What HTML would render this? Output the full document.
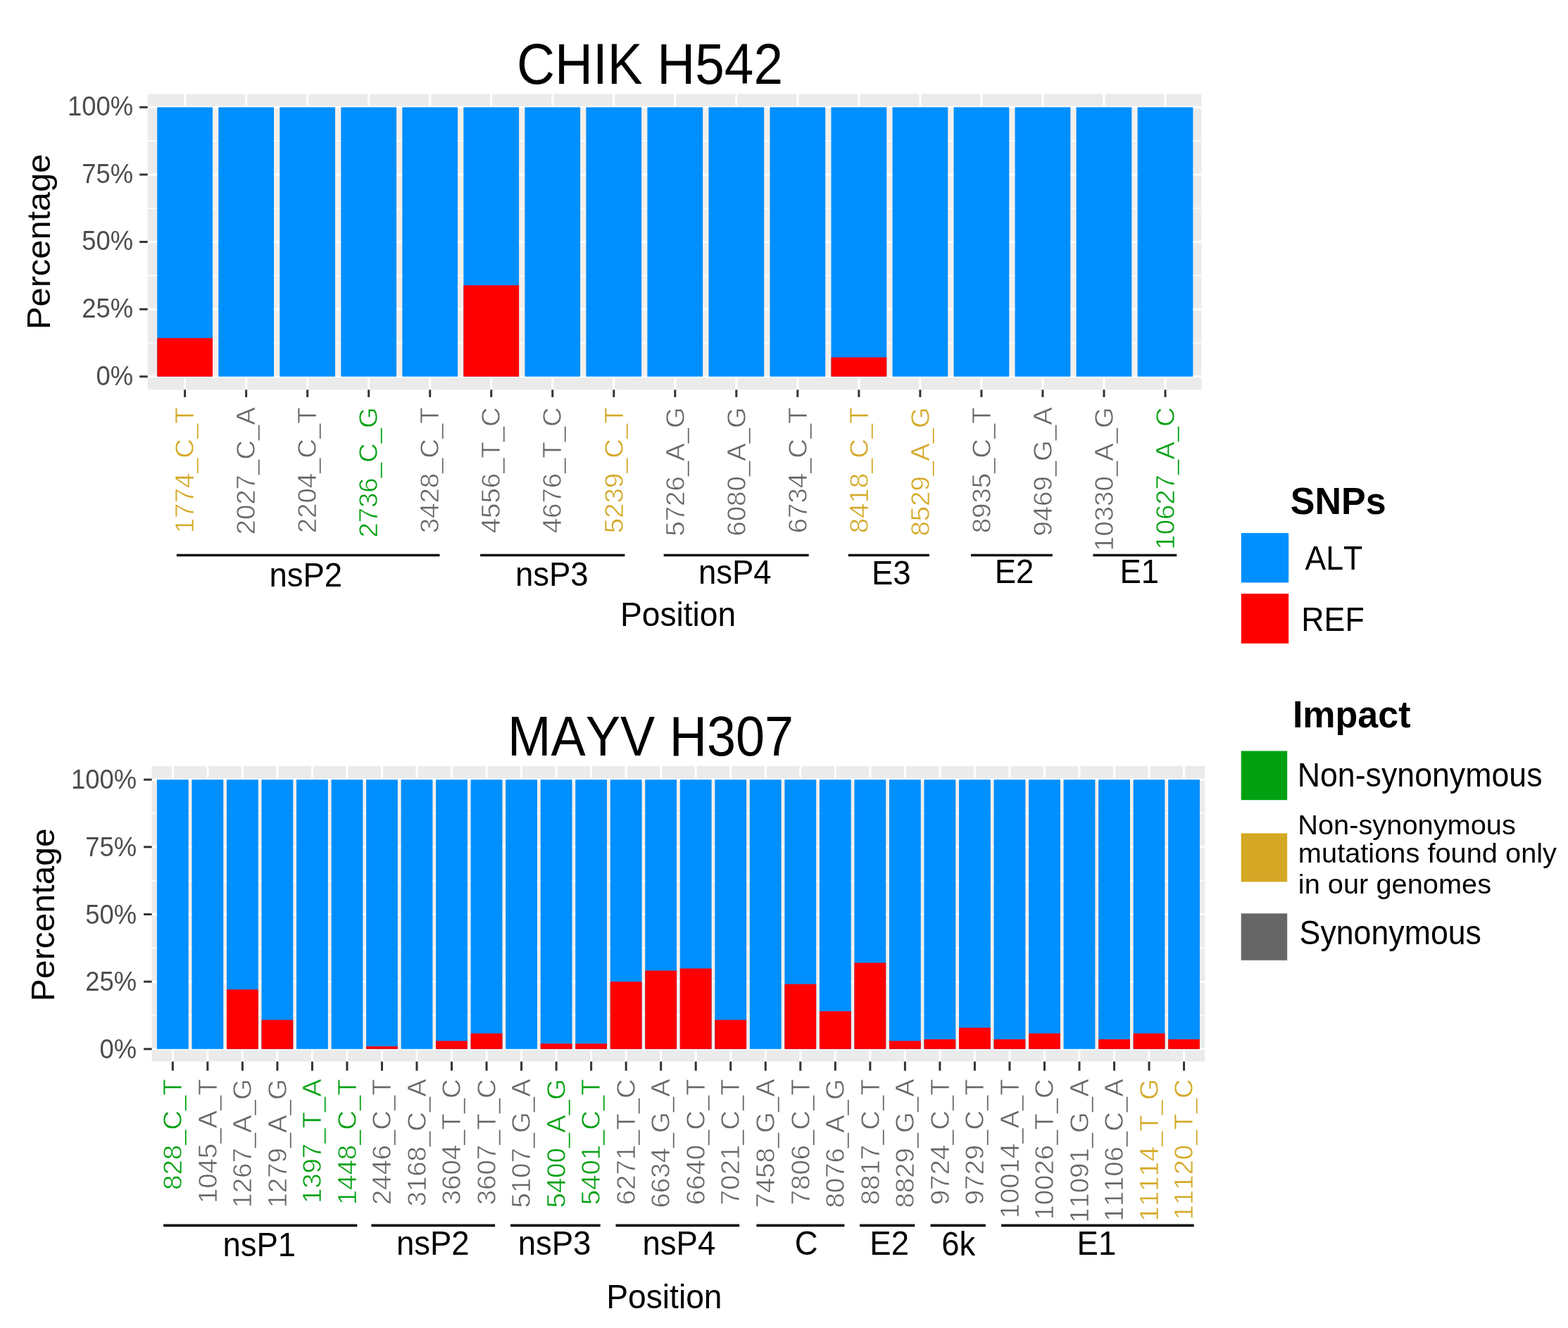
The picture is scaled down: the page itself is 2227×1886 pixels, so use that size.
<!DOCTYPE html>
<html><head><meta charset="utf-8"><title>SNPs</title><style>html,body{margin:0;padding:0;background:#fff;}svg{display:block;}</style></head><body>
<svg width="2227" height="1886" viewBox="0 0 2227 1886" font-family="'Liberation Sans', Arial, Helvetica, sans-serif" style="font-kerning:none;font-variant-ligatures:none">
<rect width="2227" height="1886" fill="#fff"/>
<rect x="209.7" y="133.5" width="1496.60" height="420.00" fill="#EBEBEB"/>
<rect x="223.24" y="152.30" width="1471.13" height="382.50" fill="#F4EFEA"/>
<line x1="209.7" x2="1706.3" y1="486.99" y2="486.99" stroke="#fff" stroke-width="1.6"/>
<line x1="209.7" x2="1706.3" y1="391.36" y2="391.36" stroke="#fff" stroke-width="1.6"/>
<line x1="209.7" x2="1706.3" y1="295.74" y2="295.74" stroke="#fff" stroke-width="1.6"/>
<line x1="209.7" x2="1706.3" y1="200.11" y2="200.11" stroke="#fff" stroke-width="1.6"/>
<line x1="209.7" x2="1706.3" y1="534.80" y2="534.80" stroke="#fff" stroke-width="3"/>
<line x1="209.7" x2="1706.3" y1="439.17" y2="439.17" stroke="#fff" stroke-width="3"/>
<line x1="209.7" x2="1706.3" y1="343.55" y2="343.55" stroke="#fff" stroke-width="3"/>
<line x1="209.7" x2="1706.3" y1="247.93" y2="247.93" stroke="#fff" stroke-width="3"/>
<line x1="209.7" x2="1706.3" y1="152.30" y2="152.30" stroke="#fff" stroke-width="3"/>
<line x1="262.61" x2="262.61" y1="133.5" y2="553.5" stroke="#fff" stroke-width="3"/>
<line x1="349.64" x2="349.64" y1="133.5" y2="553.5" stroke="#fff" stroke-width="3"/>
<line x1="436.66" x2="436.66" y1="133.5" y2="553.5" stroke="#fff" stroke-width="3"/>
<line x1="523.68" x2="523.68" y1="133.5" y2="553.5" stroke="#fff" stroke-width="3"/>
<line x1="610.71" x2="610.71" y1="133.5" y2="553.5" stroke="#fff" stroke-width="3"/>
<line x1="697.73" x2="697.73" y1="133.5" y2="553.5" stroke="#fff" stroke-width="3"/>
<line x1="784.75" x2="784.75" y1="133.5" y2="553.5" stroke="#fff" stroke-width="3"/>
<line x1="871.78" x2="871.78" y1="133.5" y2="553.5" stroke="#fff" stroke-width="3"/>
<line x1="958.80" x2="958.80" y1="133.5" y2="553.5" stroke="#fff" stroke-width="3"/>
<line x1="1045.82" x2="1045.82" y1="133.5" y2="553.5" stroke="#fff" stroke-width="3"/>
<line x1="1132.85" x2="1132.85" y1="133.5" y2="553.5" stroke="#fff" stroke-width="3"/>
<line x1="1219.87" x2="1219.87" y1="133.5" y2="553.5" stroke="#fff" stroke-width="3"/>
<line x1="1306.89" x2="1306.89" y1="133.5" y2="553.5" stroke="#fff" stroke-width="3"/>
<line x1="1393.92" x2="1393.92" y1="133.5" y2="553.5" stroke="#fff" stroke-width="3"/>
<line x1="1480.94" x2="1480.94" y1="133.5" y2="553.5" stroke="#fff" stroke-width="3"/>
<line x1="1567.96" x2="1567.96" y1="133.5" y2="553.5" stroke="#fff" stroke-width="3"/>
<line x1="1654.99" x2="1654.99" y1="133.5" y2="553.5" stroke="#fff" stroke-width="3"/>
<rect x="223.24" y="152.30" width="78.76" height="382.50" fill="#008FFF"/>
<rect x="223.24" y="480.16" width="78.76" height="54.64" fill="#FF0000"/>
<rect x="310.26" y="152.30" width="78.76" height="382.50" fill="#008FFF"/>
<rect x="397.28" y="152.30" width="78.76" height="382.50" fill="#008FFF"/>
<rect x="484.31" y="152.30" width="78.76" height="382.50" fill="#008FFF"/>
<rect x="571.33" y="152.30" width="78.76" height="382.50" fill="#008FFF"/>
<rect x="658.35" y="152.30" width="78.76" height="382.50" fill="#008FFF"/>
<rect x="658.35" y="405.13" width="78.76" height="129.67" fill="#FF0000"/>
<rect x="745.38" y="152.30" width="78.76" height="382.50" fill="#008FFF"/>
<rect x="832.40" y="152.30" width="78.76" height="382.50" fill="#008FFF"/>
<rect x="919.42" y="152.30" width="78.76" height="382.50" fill="#008FFF"/>
<rect x="1006.45" y="152.30" width="78.76" height="382.50" fill="#008FFF"/>
<rect x="1093.47" y="152.30" width="78.76" height="382.50" fill="#008FFF"/>
<rect x="1180.49" y="152.30" width="78.76" height="382.50" fill="#008FFF"/>
<rect x="1180.49" y="507.48" width="78.76" height="27.32" fill="#FF0000"/>
<rect x="1267.51" y="152.30" width="78.76" height="382.50" fill="#008FFF"/>
<rect x="1354.54" y="152.30" width="78.76" height="382.50" fill="#008FFF"/>
<rect x="1441.56" y="152.30" width="78.76" height="382.50" fill="#008FFF"/>
<rect x="1528.58" y="152.30" width="78.76" height="382.50" fill="#008FFF"/>
<rect x="1615.61" y="152.30" width="78.76" height="382.50" fill="#008FFF"/>
<line x1="198.2" x2="209.7" y1="534.80" y2="534.80" stroke="#333333" stroke-width="3"/>
<text transform="translate(189.00,546.50) scale(1,1.0860)" font-size="36.4" fill="#4D4D4D" text-anchor="end">0%</text>
<line x1="198.2" x2="209.7" y1="439.17" y2="439.17" stroke="#333333" stroke-width="3"/>
<text transform="translate(189.00,450.87) scale(1,1.0860)" font-size="36.4" fill="#4D4D4D" text-anchor="end">25%</text>
<line x1="198.2" x2="209.7" y1="343.55" y2="343.55" stroke="#333333" stroke-width="3"/>
<text transform="translate(189.00,355.25) scale(1,1.0860)" font-size="36.4" fill="#4D4D4D" text-anchor="end">50%</text>
<line x1="198.2" x2="209.7" y1="247.93" y2="247.93" stroke="#333333" stroke-width="3"/>
<text transform="translate(189.00,259.62) scale(1,1.0860)" font-size="36.4" fill="#4D4D4D" text-anchor="end">75%</text>
<line x1="198.2" x2="209.7" y1="152.30" y2="152.30" stroke="#333333" stroke-width="3"/>
<text transform="translate(189.00,164.00) scale(1,1.0860)" font-size="36.4" fill="#4D4D4D" text-anchor="end">100%</text>
<line x1="262.61" x2="262.61" y1="553.5" y2="564.0" stroke="#333333" stroke-width="3"/>
<text transform="translate(275.34,578.30) scale(1,1.0530) rotate(-90)" font-size="36.4" fill="#D4A824" text-anchor="end" stroke="#fff" stroke-width="0.6">1774_C_T</text>
<line x1="349.64" x2="349.64" y1="553.5" y2="564.0" stroke="#333333" stroke-width="3"/>
<text transform="translate(362.36,578.30) scale(1,1.0530) rotate(-90)" font-size="36.4" fill="#666666" text-anchor="end" stroke="#fff" stroke-width="0.6">2027_C_A</text>
<line x1="436.66" x2="436.66" y1="553.5" y2="564.0" stroke="#333333" stroke-width="3"/>
<text transform="translate(449.38,578.30) scale(1,1.0530) rotate(-90)" font-size="36.4" fill="#666666" text-anchor="end" stroke="#fff" stroke-width="0.6">2204_C_T</text>
<line x1="523.68" x2="523.68" y1="553.5" y2="564.0" stroke="#333333" stroke-width="3"/>
<text transform="translate(536.41,578.30) scale(1,1.0530) rotate(-90)" font-size="36.4" fill="#00A010" text-anchor="end" stroke="#fff" stroke-width="0.6">2736_C_G</text>
<line x1="610.71" x2="610.71" y1="553.5" y2="564.0" stroke="#333333" stroke-width="3"/>
<text transform="translate(623.43,578.30) scale(1,1.0530) rotate(-90)" font-size="36.4" fill="#666666" text-anchor="end" stroke="#fff" stroke-width="0.6">3428_C_T</text>
<line x1="697.73" x2="697.73" y1="553.5" y2="564.0" stroke="#333333" stroke-width="3"/>
<text transform="translate(710.45,578.30) scale(1,1.0530) rotate(-90)" font-size="36.4" fill="#666666" text-anchor="end" stroke="#fff" stroke-width="0.6">4556_T_C</text>
<line x1="784.75" x2="784.75" y1="553.5" y2="564.0" stroke="#333333" stroke-width="3"/>
<text transform="translate(797.48,578.30) scale(1,1.0530) rotate(-90)" font-size="36.4" fill="#666666" text-anchor="end" stroke="#fff" stroke-width="0.6">4676_T_C</text>
<line x1="871.78" x2="871.78" y1="553.5" y2="564.0" stroke="#333333" stroke-width="3"/>
<text transform="translate(884.50,578.30) scale(1,1.0530) rotate(-90)" font-size="36.4" fill="#D4A824" text-anchor="end" stroke="#fff" stroke-width="0.6">5239_C_T</text>
<line x1="958.80" x2="958.80" y1="553.5" y2="564.0" stroke="#333333" stroke-width="3"/>
<text transform="translate(971.52,578.30) scale(1,1.0530) rotate(-90)" font-size="36.4" fill="#666666" text-anchor="end" stroke="#fff" stroke-width="0.6">5726_A_G</text>
<line x1="1045.82" x2="1045.82" y1="553.5" y2="564.0" stroke="#333333" stroke-width="3"/>
<text transform="translate(1058.54,578.30) scale(1,1.0530) rotate(-90)" font-size="36.4" fill="#666666" text-anchor="end" stroke="#fff" stroke-width="0.6">6080_A_G</text>
<line x1="1132.85" x2="1132.85" y1="553.5" y2="564.0" stroke="#333333" stroke-width="3"/>
<text transform="translate(1145.57,578.30) scale(1,1.0530) rotate(-90)" font-size="36.4" fill="#666666" text-anchor="end" stroke="#fff" stroke-width="0.6">6734_C_T</text>
<line x1="1219.87" x2="1219.87" y1="553.5" y2="564.0" stroke="#333333" stroke-width="3"/>
<text transform="translate(1232.59,578.30) scale(1,1.0530) rotate(-90)" font-size="36.4" fill="#D4A824" text-anchor="end" stroke="#fff" stroke-width="0.6">8418_C_T</text>
<line x1="1306.89" x2="1306.89" y1="553.5" y2="564.0" stroke="#333333" stroke-width="3"/>
<text transform="translate(1319.61,578.30) scale(1,1.0530) rotate(-90)" font-size="36.4" fill="#D4A824" text-anchor="end" stroke="#fff" stroke-width="0.6">8529_A_G</text>
<line x1="1393.92" x2="1393.92" y1="553.5" y2="564.0" stroke="#333333" stroke-width="3"/>
<text transform="translate(1406.64,578.30) scale(1,1.0530) rotate(-90)" font-size="36.4" fill="#666666" text-anchor="end" stroke="#fff" stroke-width="0.6">8935_C_T</text>
<line x1="1480.94" x2="1480.94" y1="553.5" y2="564.0" stroke="#333333" stroke-width="3"/>
<text transform="translate(1493.66,578.30) scale(1,1.0530) rotate(-90)" font-size="36.4" fill="#666666" text-anchor="end" stroke="#fff" stroke-width="0.6">9469_G_A</text>
<line x1="1567.96" x2="1567.96" y1="553.5" y2="564.0" stroke="#333333" stroke-width="3"/>
<text transform="translate(1580.68,578.30) scale(1,1.0530) rotate(-90)" font-size="36.4" fill="#666666" text-anchor="end" stroke="#fff" stroke-width="0.6">10330_A_G</text>
<line x1="1654.99" x2="1654.99" y1="553.5" y2="564.0" stroke="#333333" stroke-width="3"/>
<text transform="translate(1667.71,578.30) scale(1,1.0530) rotate(-90)" font-size="36.4" fill="#00A010" text-anchor="end" stroke="#fff" stroke-width="0.6">10627_A_C</text>
<line x1="250.8" x2="624.5" y1="788.5" y2="788.5" stroke="#111" stroke-width="3.6"/>
<text transform="translate(382.48,833.00) scale(1,1.0500)" font-size="45.5" fill="#000" text-anchor="start">nsP2</text>
<line x1="682.1" x2="887.4" y1="788.5" y2="788.5" stroke="#111" stroke-width="3.6"/>
<text transform="translate(731.94,832.00) scale(1,1.0500)" font-size="45.5" fill="#000" text-anchor="start">nsP3</text>
<line x1="942.7" x2="1148.7" y1="788.5" y2="788.5" stroke="#111" stroke-width="3.6"/>
<text transform="translate(991.90,829.00) scale(1,1.0500)" font-size="45.5" fill="#000" text-anchor="start">nsP4</text>
<line x1="1204.7" x2="1319.9" y1="788.5" y2="788.5" stroke="#111" stroke-width="3.6"/>
<text transform="translate(1237.91,830.00) scale(1,1.0500)" font-size="45.5" fill="#000" text-anchor="start">E3</text>
<line x1="1379" x2="1494.8" y1="788.5" y2="788.5" stroke="#111" stroke-width="3.6"/>
<text transform="translate(1412.65,828.00) scale(1,1.0500)" font-size="45.5" fill="#000" text-anchor="start">E2</text>
<line x1="1552.4" x2="1671.3" y1="788.5" y2="788.5" stroke="#111" stroke-width="3.6"/>
<text transform="translate(1590.42,828.00) scale(1,1.0500)" font-size="45.5" fill="#000" text-anchor="start">E1</text>
<text transform="translate(733.95,119.40) scale(1,1.0850)" font-size="74.75" fill="#000" text-anchor="start">CHIK H542</text>
<text transform="translate(880.92,888.80) scale(1,1.0500)" font-size="46.2" fill="#000" text-anchor="start">Position</text>
<text transform="translate(71.00,343.30) scale(1,1.0560) rotate(-90)" font-size="46.2" fill="#000" text-anchor="middle">Percentage</text>
<rect x="215.6" y="1088" width="1495.70" height="419.60" fill="#EBEBEB"/>
<rect x="222.91" y="1107.20" width="1481.09" height="382.60" fill="#F4EFEA"/>
<line x1="215.6" x2="1711.3" y1="1441.97" y2="1441.97" stroke="#fff" stroke-width="1.6"/>
<line x1="215.6" x2="1711.3" y1="1346.33" y2="1346.33" stroke="#fff" stroke-width="1.6"/>
<line x1="215.6" x2="1711.3" y1="1250.67" y2="1250.67" stroke="#fff" stroke-width="1.6"/>
<line x1="215.6" x2="1711.3" y1="1155.03" y2="1155.03" stroke="#fff" stroke-width="1.6"/>
<line x1="215.6" x2="1711.3" y1="1489.80" y2="1489.80" stroke="#fff" stroke-width="3"/>
<line x1="215.6" x2="1711.3" y1="1394.15" y2="1394.15" stroke="#fff" stroke-width="3"/>
<line x1="215.6" x2="1711.3" y1="1298.50" y2="1298.50" stroke="#fff" stroke-width="3"/>
<line x1="215.6" x2="1711.3" y1="1202.85" y2="1202.85" stroke="#fff" stroke-width="3"/>
<line x1="215.6" x2="1711.3" y1="1107.20" y2="1107.20" stroke="#fff" stroke-width="3"/>
<line x1="245.32" x2="245.32" y1="1088" y2="1507.6" stroke="#fff" stroke-width="3"/>
<line x1="294.84" x2="294.84" y1="1088" y2="1507.6" stroke="#fff" stroke-width="3"/>
<line x1="344.37" x2="344.37" y1="1088" y2="1507.6" stroke="#fff" stroke-width="3"/>
<line x1="393.90" x2="393.90" y1="1088" y2="1507.6" stroke="#fff" stroke-width="3"/>
<line x1="443.42" x2="443.42" y1="1088" y2="1507.6" stroke="#fff" stroke-width="3"/>
<line x1="492.95" x2="492.95" y1="1088" y2="1507.6" stroke="#fff" stroke-width="3"/>
<line x1="542.47" x2="542.47" y1="1088" y2="1507.6" stroke="#fff" stroke-width="3"/>
<line x1="592.00" x2="592.00" y1="1088" y2="1507.6" stroke="#fff" stroke-width="3"/>
<line x1="641.53" x2="641.53" y1="1088" y2="1507.6" stroke="#fff" stroke-width="3"/>
<line x1="691.05" x2="691.05" y1="1088" y2="1507.6" stroke="#fff" stroke-width="3"/>
<line x1="740.58" x2="740.58" y1="1088" y2="1507.6" stroke="#fff" stroke-width="3"/>
<line x1="790.11" x2="790.11" y1="1088" y2="1507.6" stroke="#fff" stroke-width="3"/>
<line x1="839.63" x2="839.63" y1="1088" y2="1507.6" stroke="#fff" stroke-width="3"/>
<line x1="889.16" x2="889.16" y1="1088" y2="1507.6" stroke="#fff" stroke-width="3"/>
<line x1="938.69" x2="938.69" y1="1088" y2="1507.6" stroke="#fff" stroke-width="3"/>
<line x1="988.21" x2="988.21" y1="1088" y2="1507.6" stroke="#fff" stroke-width="3"/>
<line x1="1037.74" x2="1037.74" y1="1088" y2="1507.6" stroke="#fff" stroke-width="3"/>
<line x1="1087.27" x2="1087.27" y1="1088" y2="1507.6" stroke="#fff" stroke-width="3"/>
<line x1="1136.79" x2="1136.79" y1="1088" y2="1507.6" stroke="#fff" stroke-width="3"/>
<line x1="1186.32" x2="1186.32" y1="1088" y2="1507.6" stroke="#fff" stroke-width="3"/>
<line x1="1235.85" x2="1235.85" y1="1088" y2="1507.6" stroke="#fff" stroke-width="3"/>
<line x1="1285.37" x2="1285.37" y1="1088" y2="1507.6" stroke="#fff" stroke-width="3"/>
<line x1="1334.90" x2="1334.90" y1="1088" y2="1507.6" stroke="#fff" stroke-width="3"/>
<line x1="1384.43" x2="1384.43" y1="1088" y2="1507.6" stroke="#fff" stroke-width="3"/>
<line x1="1433.95" x2="1433.95" y1="1088" y2="1507.6" stroke="#fff" stroke-width="3"/>
<line x1="1483.48" x2="1483.48" y1="1088" y2="1507.6" stroke="#fff" stroke-width="3"/>
<line x1="1533.00" x2="1533.00" y1="1088" y2="1507.6" stroke="#fff" stroke-width="3"/>
<line x1="1582.53" x2="1582.53" y1="1088" y2="1507.6" stroke="#fff" stroke-width="3"/>
<line x1="1632.06" x2="1632.06" y1="1088" y2="1507.6" stroke="#fff" stroke-width="3"/>
<line x1="1681.58" x2="1681.58" y1="1088" y2="1507.6" stroke="#fff" stroke-width="3"/>
<rect x="222.91" y="1107.20" width="44.82" height="382.60" fill="#008FFF"/>
<rect x="272.43" y="1107.20" width="44.82" height="382.60" fill="#008FFF"/>
<rect x="321.96" y="1107.20" width="44.82" height="382.60" fill="#008FFF"/>
<rect x="321.96" y="1405.25" width="44.82" height="84.55" fill="#FF0000"/>
<rect x="371.48" y="1107.20" width="44.82" height="382.60" fill="#008FFF"/>
<rect x="371.48" y="1448.48" width="44.82" height="41.32" fill="#FF0000"/>
<rect x="421.01" y="1107.20" width="44.82" height="382.60" fill="#008FFF"/>
<rect x="470.54" y="1107.20" width="44.82" height="382.60" fill="#008FFF"/>
<rect x="520.06" y="1107.20" width="44.82" height="382.60" fill="#008FFF"/>
<rect x="520.06" y="1485.97" width="44.82" height="3.83" fill="#FF0000"/>
<rect x="569.59" y="1107.20" width="44.82" height="382.60" fill="#008FFF"/>
<rect x="619.12" y="1107.20" width="44.82" height="382.60" fill="#008FFF"/>
<rect x="619.12" y="1478.32" width="44.82" height="11.48" fill="#FF0000"/>
<rect x="668.64" y="1107.20" width="44.82" height="382.60" fill="#008FFF"/>
<rect x="668.64" y="1467.61" width="44.82" height="22.19" fill="#FF0000"/>
<rect x="718.17" y="1107.20" width="44.82" height="382.60" fill="#008FFF"/>
<rect x="767.70" y="1107.20" width="44.82" height="382.60" fill="#008FFF"/>
<rect x="767.70" y="1482.15" width="44.82" height="7.65" fill="#FF0000"/>
<rect x="817.22" y="1107.20" width="44.82" height="382.60" fill="#008FFF"/>
<rect x="817.22" y="1482.15" width="44.82" height="7.65" fill="#FF0000"/>
<rect x="866.75" y="1107.20" width="44.82" height="382.60" fill="#008FFF"/>
<rect x="866.75" y="1394.15" width="44.82" height="95.65" fill="#FF0000"/>
<rect x="916.28" y="1107.20" width="44.82" height="382.60" fill="#008FFF"/>
<rect x="916.28" y="1378.46" width="44.82" height="111.34" fill="#FF0000"/>
<rect x="965.80" y="1107.20" width="44.82" height="382.60" fill="#008FFF"/>
<rect x="965.80" y="1375.40" width="44.82" height="114.40" fill="#FF0000"/>
<rect x="1015.33" y="1107.20" width="44.82" height="382.60" fill="#008FFF"/>
<rect x="1015.33" y="1448.48" width="44.82" height="41.32" fill="#FF0000"/>
<rect x="1064.86" y="1107.20" width="44.82" height="382.60" fill="#008FFF"/>
<rect x="1114.38" y="1107.20" width="44.82" height="382.60" fill="#008FFF"/>
<rect x="1114.38" y="1397.59" width="44.82" height="92.21" fill="#FF0000"/>
<rect x="1163.91" y="1107.20" width="44.82" height="382.60" fill="#008FFF"/>
<rect x="1163.91" y="1436.24" width="44.82" height="53.56" fill="#FF0000"/>
<rect x="1213.43" y="1107.20" width="44.82" height="382.60" fill="#008FFF"/>
<rect x="1213.43" y="1367.37" width="44.82" height="122.43" fill="#FF0000"/>
<rect x="1262.96" y="1107.20" width="44.82" height="382.60" fill="#008FFF"/>
<rect x="1262.96" y="1478.32" width="44.82" height="11.48" fill="#FF0000"/>
<rect x="1312.49" y="1107.20" width="44.82" height="382.60" fill="#008FFF"/>
<rect x="1312.49" y="1476.03" width="44.82" height="13.77" fill="#FF0000"/>
<rect x="1362.01" y="1107.20" width="44.82" height="382.60" fill="#008FFF"/>
<rect x="1362.01" y="1459.57" width="44.82" height="30.23" fill="#FF0000"/>
<rect x="1411.54" y="1107.20" width="44.82" height="382.60" fill="#008FFF"/>
<rect x="1411.54" y="1476.03" width="44.82" height="13.77" fill="#FF0000"/>
<rect x="1461.07" y="1107.20" width="44.82" height="382.60" fill="#008FFF"/>
<rect x="1461.07" y="1467.61" width="44.82" height="22.19" fill="#FF0000"/>
<rect x="1510.59" y="1107.20" width="44.82" height="382.60" fill="#008FFF"/>
<rect x="1560.12" y="1107.20" width="44.82" height="382.60" fill="#008FFF"/>
<rect x="1560.12" y="1476.03" width="44.82" height="13.77" fill="#FF0000"/>
<rect x="1609.65" y="1107.20" width="44.82" height="382.60" fill="#008FFF"/>
<rect x="1609.65" y="1467.61" width="44.82" height="22.19" fill="#FF0000"/>
<rect x="1659.17" y="1107.20" width="44.82" height="382.60" fill="#008FFF"/>
<rect x="1659.17" y="1476.03" width="44.82" height="13.77" fill="#FF0000"/>
<line x1="204.1" x2="215.6" y1="1489.80" y2="1489.80" stroke="#333333" stroke-width="3"/>
<text transform="translate(194.00,1503.00) scale(1,1.0860)" font-size="36.4" fill="#4D4D4D" text-anchor="end">0%</text>
<line x1="204.1" x2="215.6" y1="1394.15" y2="1394.15" stroke="#333333" stroke-width="3"/>
<text transform="translate(194.00,1407.35) scale(1,1.0860)" font-size="36.4" fill="#4D4D4D" text-anchor="end">25%</text>
<line x1="204.1" x2="215.6" y1="1298.50" y2="1298.50" stroke="#333333" stroke-width="3"/>
<text transform="translate(194.00,1311.70) scale(1,1.0860)" font-size="36.4" fill="#4D4D4D" text-anchor="end">50%</text>
<line x1="204.1" x2="215.6" y1="1202.85" y2="1202.85" stroke="#333333" stroke-width="3"/>
<text transform="translate(194.00,1216.05) scale(1,1.0860)" font-size="36.4" fill="#4D4D4D" text-anchor="end">75%</text>
<line x1="204.1" x2="215.6" y1="1107.20" y2="1107.20" stroke="#333333" stroke-width="3"/>
<text transform="translate(194.00,1120.40) scale(1,1.0860)" font-size="36.4" fill="#4D4D4D" text-anchor="end">100%</text>
<line x1="245.32" x2="245.32" y1="1507.6" y2="1520.6" stroke="#333333" stroke-width="3"/>
<text transform="translate(258.04,1532.30) scale(1,1.0530) rotate(-90)" font-size="36.4" fill="#00A010" text-anchor="end" stroke="#fff" stroke-width="0.6">828_C_T</text>
<line x1="294.84" x2="294.84" y1="1507.6" y2="1520.6" stroke="#333333" stroke-width="3"/>
<text transform="translate(307.56,1532.30) scale(1,1.0530) rotate(-90)" font-size="36.4" fill="#666666" text-anchor="end" stroke="#fff" stroke-width="0.6">1045_A_T</text>
<line x1="344.37" x2="344.37" y1="1507.6" y2="1520.6" stroke="#333333" stroke-width="3"/>
<text transform="translate(357.09,1532.30) scale(1,1.0530) rotate(-90)" font-size="36.4" fill="#666666" text-anchor="end" stroke="#fff" stroke-width="0.6">1267_A_G</text>
<line x1="393.90" x2="393.90" y1="1507.6" y2="1520.6" stroke="#333333" stroke-width="3"/>
<text transform="translate(406.62,1532.30) scale(1,1.0530) rotate(-90)" font-size="36.4" fill="#666666" text-anchor="end" stroke="#fff" stroke-width="0.6">1279_A_G</text>
<line x1="443.42" x2="443.42" y1="1507.6" y2="1520.6" stroke="#333333" stroke-width="3"/>
<text transform="translate(456.14,1532.30) scale(1,1.0530) rotate(-90)" font-size="36.4" fill="#00A010" text-anchor="end" stroke="#fff" stroke-width="0.6">1397_T_A</text>
<line x1="492.95" x2="492.95" y1="1507.6" y2="1520.6" stroke="#333333" stroke-width="3"/>
<text transform="translate(505.67,1532.30) scale(1,1.0530) rotate(-90)" font-size="36.4" fill="#00A010" text-anchor="end" stroke="#fff" stroke-width="0.6">1448_C_T</text>
<line x1="542.47" x2="542.47" y1="1507.6" y2="1520.6" stroke="#333333" stroke-width="3"/>
<text transform="translate(555.20,1532.30) scale(1,1.0530) rotate(-90)" font-size="36.4" fill="#666666" text-anchor="end" stroke="#fff" stroke-width="0.6">2446_C_T</text>
<line x1="592.00" x2="592.00" y1="1507.6" y2="1520.6" stroke="#333333" stroke-width="3"/>
<text transform="translate(604.72,1532.30) scale(1,1.0530) rotate(-90)" font-size="36.4" fill="#666666" text-anchor="end" stroke="#fff" stroke-width="0.6">3168_C_A</text>
<line x1="641.53" x2="641.53" y1="1507.6" y2="1520.6" stroke="#333333" stroke-width="3"/>
<text transform="translate(654.25,1532.30) scale(1,1.0530) rotate(-90)" font-size="36.4" fill="#666666" text-anchor="end" stroke="#fff" stroke-width="0.6">3604_T_C</text>
<line x1="691.05" x2="691.05" y1="1507.6" y2="1520.6" stroke="#333333" stroke-width="3"/>
<text transform="translate(703.78,1532.30) scale(1,1.0530) rotate(-90)" font-size="36.4" fill="#666666" text-anchor="end" stroke="#fff" stroke-width="0.6">3607_T_C</text>
<line x1="740.58" x2="740.58" y1="1507.6" y2="1520.6" stroke="#333333" stroke-width="3"/>
<text transform="translate(753.30,1532.30) scale(1,1.0530) rotate(-90)" font-size="36.4" fill="#666666" text-anchor="end" stroke="#fff" stroke-width="0.6">5107_G_A</text>
<line x1="790.11" x2="790.11" y1="1507.6" y2="1520.6" stroke="#333333" stroke-width="3"/>
<text transform="translate(802.83,1532.30) scale(1,1.0530) rotate(-90)" font-size="36.4" fill="#00A010" text-anchor="end" stroke="#fff" stroke-width="0.6">5400_A_G</text>
<line x1="839.63" x2="839.63" y1="1507.6" y2="1520.6" stroke="#333333" stroke-width="3"/>
<text transform="translate(852.36,1532.30) scale(1,1.0530) rotate(-90)" font-size="36.4" fill="#00A010" text-anchor="end" stroke="#fff" stroke-width="0.6">5401_C_T</text>
<line x1="889.16" x2="889.16" y1="1507.6" y2="1520.6" stroke="#333333" stroke-width="3"/>
<text transform="translate(901.88,1532.30) scale(1,1.0530) rotate(-90)" font-size="36.4" fill="#666666" text-anchor="end" stroke="#fff" stroke-width="0.6">6271_T_C</text>
<line x1="938.69" x2="938.69" y1="1507.6" y2="1520.6" stroke="#333333" stroke-width="3"/>
<text transform="translate(951.41,1532.30) scale(1,1.0530) rotate(-90)" font-size="36.4" fill="#666666" text-anchor="end" stroke="#fff" stroke-width="0.6">6634_G_A</text>
<line x1="988.21" x2="988.21" y1="1507.6" y2="1520.6" stroke="#333333" stroke-width="3"/>
<text transform="translate(1000.93,1532.30) scale(1,1.0530) rotate(-90)" font-size="36.4" fill="#666666" text-anchor="end" stroke="#fff" stroke-width="0.6">6640_C_T</text>
<line x1="1037.74" x2="1037.74" y1="1507.6" y2="1520.6" stroke="#333333" stroke-width="3"/>
<text transform="translate(1050.46,1532.30) scale(1,1.0530) rotate(-90)" font-size="36.4" fill="#666666" text-anchor="end" stroke="#fff" stroke-width="0.6">7021_C_T</text>
<line x1="1087.27" x2="1087.27" y1="1507.6" y2="1520.6" stroke="#333333" stroke-width="3"/>
<text transform="translate(1099.99,1532.30) scale(1,1.0530) rotate(-90)" font-size="36.4" fill="#666666" text-anchor="end" stroke="#fff" stroke-width="0.6">7458_G_A</text>
<line x1="1136.79" x2="1136.79" y1="1507.6" y2="1520.6" stroke="#333333" stroke-width="3"/>
<text transform="translate(1149.51,1532.30) scale(1,1.0530) rotate(-90)" font-size="36.4" fill="#666666" text-anchor="end" stroke="#fff" stroke-width="0.6">7806_C_T</text>
<line x1="1186.32" x2="1186.32" y1="1507.6" y2="1520.6" stroke="#333333" stroke-width="3"/>
<text transform="translate(1199.04,1532.30) scale(1,1.0530) rotate(-90)" font-size="36.4" fill="#666666" text-anchor="end" stroke="#fff" stroke-width="0.6">8076_A_G</text>
<line x1="1235.85" x2="1235.85" y1="1507.6" y2="1520.6" stroke="#333333" stroke-width="3"/>
<text transform="translate(1248.57,1532.30) scale(1,1.0530) rotate(-90)" font-size="36.4" fill="#666666" text-anchor="end" stroke="#fff" stroke-width="0.6">8817_C_T</text>
<line x1="1285.37" x2="1285.37" y1="1507.6" y2="1520.6" stroke="#333333" stroke-width="3"/>
<text transform="translate(1298.09,1532.30) scale(1,1.0530) rotate(-90)" font-size="36.4" fill="#666666" text-anchor="end" stroke="#fff" stroke-width="0.6">8829_G_A</text>
<line x1="1334.90" x2="1334.90" y1="1507.6" y2="1520.6" stroke="#333333" stroke-width="3"/>
<text transform="translate(1347.62,1532.30) scale(1,1.0530) rotate(-90)" font-size="36.4" fill="#666666" text-anchor="end" stroke="#fff" stroke-width="0.6">9724_C_T</text>
<line x1="1384.43" x2="1384.43" y1="1507.6" y2="1520.6" stroke="#333333" stroke-width="3"/>
<text transform="translate(1397.15,1532.30) scale(1,1.0530) rotate(-90)" font-size="36.4" fill="#666666" text-anchor="end" stroke="#fff" stroke-width="0.6">9729_C_T</text>
<line x1="1433.95" x2="1433.95" y1="1507.6" y2="1520.6" stroke="#333333" stroke-width="3"/>
<text transform="translate(1446.67,1532.30) scale(1,1.0530) rotate(-90)" font-size="36.4" fill="#666666" text-anchor="end" stroke="#fff" stroke-width="0.6">10014_A_T</text>
<line x1="1483.48" x2="1483.48" y1="1507.6" y2="1520.6" stroke="#333333" stroke-width="3"/>
<text transform="translate(1496.20,1532.30) scale(1,1.0530) rotate(-90)" font-size="36.4" fill="#666666" text-anchor="end" stroke="#fff" stroke-width="0.6">10026_T_C</text>
<line x1="1533.00" x2="1533.00" y1="1507.6" y2="1520.6" stroke="#333333" stroke-width="3"/>
<text transform="translate(1545.73,1532.30) scale(1,1.0530) rotate(-90)" font-size="36.4" fill="#666666" text-anchor="end" stroke="#fff" stroke-width="0.6">11091_G_A</text>
<line x1="1582.53" x2="1582.53" y1="1507.6" y2="1520.6" stroke="#333333" stroke-width="3"/>
<text transform="translate(1595.25,1532.30) scale(1,1.0530) rotate(-90)" font-size="36.4" fill="#666666" text-anchor="end" stroke="#fff" stroke-width="0.6">11106_C_A</text>
<line x1="1632.06" x2="1632.06" y1="1507.6" y2="1520.6" stroke="#333333" stroke-width="3"/>
<text transform="translate(1644.78,1532.30) scale(1,1.0530) rotate(-90)" font-size="36.4" fill="#D4A824" text-anchor="end" stroke="#fff" stroke-width="0.6">11114_T_G</text>
<line x1="1681.58" x2="1681.58" y1="1507.6" y2="1520.6" stroke="#333333" stroke-width="3"/>
<text transform="translate(1694.31,1532.30) scale(1,1.0530) rotate(-90)" font-size="36.4" fill="#D4A824" text-anchor="end" stroke="#fff" stroke-width="0.6">11120_T_C</text>
<line x1="232.2" x2="507.3" y1="1740.4" y2="1740.4" stroke="#111" stroke-width="3.6"/>
<text transform="translate(316.45,1784.10) scale(1,1.0500)" font-size="45.5" fill="#000" text-anchor="start">nsP1</text>
<line x1="527.4" x2="703.1" y1="1740.4" y2="1740.4" stroke="#111" stroke-width="3.6"/>
<text transform="translate(562.88,1782.20) scale(1,1.0500)" font-size="45.5" fill="#000" text-anchor="start">nsP2</text>
<line x1="725" x2="852.7" y1="1740.4" y2="1740.4" stroke="#111" stroke-width="3.6"/>
<text transform="translate(735.64,1782.20) scale(1,1.0500)" font-size="45.5" fill="#000" text-anchor="start">nsP3</text>
<line x1="874.5" x2="1050.2" y1="1740.4" y2="1740.4" stroke="#111" stroke-width="3.6"/>
<text transform="translate(912.50,1782.20) scale(1,1.0500)" font-size="45.5" fill="#000" text-anchor="start">nsP4</text>
<line x1="1074.4" x2="1199.4" y1="1740.4" y2="1740.4" stroke="#111" stroke-width="3.6"/>
<text transform="translate(1128.78,1782.20) scale(1,1.0500)" font-size="45.5" fill="#000" text-anchor="start">C</text>
<line x1="1221" x2="1299.3" y1="1740.4" y2="1740.4" stroke="#111" stroke-width="3.6"/>
<text transform="translate(1235.35,1782.00) scale(1,1.0500)" font-size="45.5" fill="#000" text-anchor="start">E2</text>
<line x1="1321.5" x2="1399.9" y1="1740.4" y2="1740.4" stroke="#111" stroke-width="3.6"/>
<text transform="translate(1337.28,1782.80) scale(1,1.0500)" font-size="45.5" fill="#000" text-anchor="start">6k</text>
<line x1="1422.1" x2="1695.7" y1="1740.4" y2="1740.4" stroke="#111" stroke-width="3.6"/>
<text transform="translate(1529.62,1782.00) scale(1,1.0500)" font-size="45.5" fill="#000" text-anchor="start">E1</text>
<text transform="translate(720.93,1073.40) scale(1,1.0850)" font-size="73.82" fill="#000" text-anchor="start">MAYV H307</text>
<text transform="translate(861.22,1858.10) scale(1,1.0500)" font-size="46.2" fill="#000" text-anchor="start">Position</text>
<text transform="translate(76.60,1299.20) scale(1,1.0410) rotate(-90)" font-size="46.2" fill="#000" text-anchor="middle">Percentage</text>
<text transform="translate(1832.80,729.70) scale(1,1.0400)" font-size="52.0" fill="#000" text-anchor="start" font-weight="bold">SNPs</text>
<rect x="1762.8" y="757" width="67.4" height="70.4" fill="#008FFF"/>
<rect x="1762.8" y="843.2" width="67.4" height="70.6" fill="#FF0000"/>
<text transform="translate(1853.41,809.30) scale(1,1.0900)" font-size="44.7" fill="#000" text-anchor="start">ALT</text>
<text transform="translate(1848.33,895.50) scale(1,1.0900)" font-size="44.7" fill="#000" text-anchor="start">REF</text>
<text transform="translate(1835.92,1033.30) scale(1,1.0400)" font-size="52.0" fill="#000" text-anchor="start" font-weight="bold">Impact</text>
<rect x="1762.7" y="1066.5" width="65.5" height="69.7" fill="#00A010"/>
<rect x="1762.7" y="1183.4" width="65.5" height="69.0" fill="#D4A824"/>
<rect x="1762.7" y="1297.3" width="65.5" height="66.5" fill="#666666"/>
<text transform="translate(1842.73,1117.30) scale(1,1.0900)" font-size="44.7" fill="#000" text-anchor="start">Non-synonymous</text>
<text transform="translate(1843.24,1185.40) scale(1,0.9800)" font-size="39.8" fill="#000" text-anchor="start">Non-synonymous</text>
<text transform="translate(1843.86,1225.40) scale(1,0.9800)" font-size="39.8" fill="#000" text-anchor="start">mutations found only</text>
<text transform="translate(1843.84,1268.90) scale(1,0.9800)" font-size="39.8" fill="#000" text-anchor="start">in our genomes</text>
<text transform="translate(1845.57,1341.20) scale(1,1.0900)" font-size="44.7" fill="#000" text-anchor="start">Synonymous</text>
</svg>
</body></html>
